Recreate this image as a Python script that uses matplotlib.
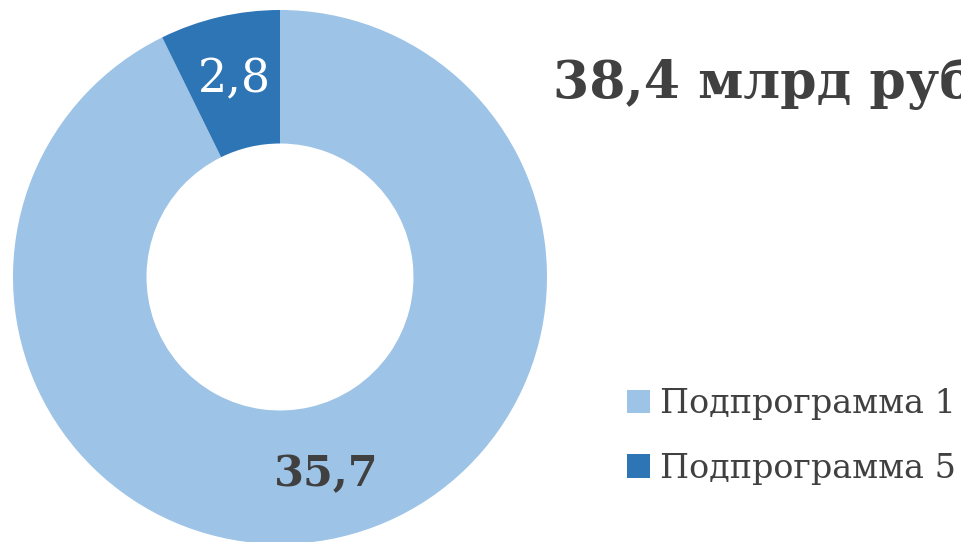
import matplotlib
matplotlib.use("Agg")
import matplotlib.pyplot as plt
from matplotlib.patches import Patch

categories = ["Подпрограмма 1", "Подпрограмма 5"]
values = [35.7, 2.8]
colors = ["#9DC3E6", "#2E75B6"]
label_colors = ["#404040", "#FFFFFF"]
title = "38,4 млрд руб."

FONT = "DejaVu Serif"

fig = plt.figure(figsize=(9.61, 5.42), dpi=100)
W, H = 961, 542
R = 267
cx, cy = 280, 277
ax = fig.add_axes([(cx - R) / W, (H - cy - R) / H, 2 * R / W, 2 * R / H])

wedges, texts = ax.pie(values, colors=colors, startangle=90, counterclock=False,
                       wedgeprops=dict(width=0.5, edgecolor="none"),
                       labels=[f"{v:.1f}".replace(".", ",") for v in values],
                       labeldistance=0.76)
for t, c in zip(texts, label_colors):
    t.set_ha("center")
    t.set_va("center")
    t.set_color(c)
    t.set_fontfamily(FONT)
    if c == "#FFFFFF":
        t.set_fontsize(33)
        t.set_fontweight("normal")
    else:
        t.set_fontsize(31)
        t.set_fontweight("bold")
ax.set_xlim(-1, 1)
ax.set_ylim(-1, 1)
ax.set_aspect("auto")
ax.axis("off")

fig.text(553 / W, 1 - 84 / H, title, ha="left", va="center", fontsize=37.5,
         fontweight="bold", color="#404040", fontfamily=FONT)

handles = [Patch(facecolor=c, edgecolor="none") for c in colors]
fig.legend(handles, categories, loc="upper left", bbox_to_anchor=(627 / W, 1 - 388 / H),
           frameon=False, handlelength=0.7, handleheight=0.7,
           handletextpad=0.3, labelspacing=0.98, borderpad=0, borderaxespad=0,
           labelcolor="#404040", prop=dict(family=FONT, size=24))

fig.savefig("out.png", dpi=100)
